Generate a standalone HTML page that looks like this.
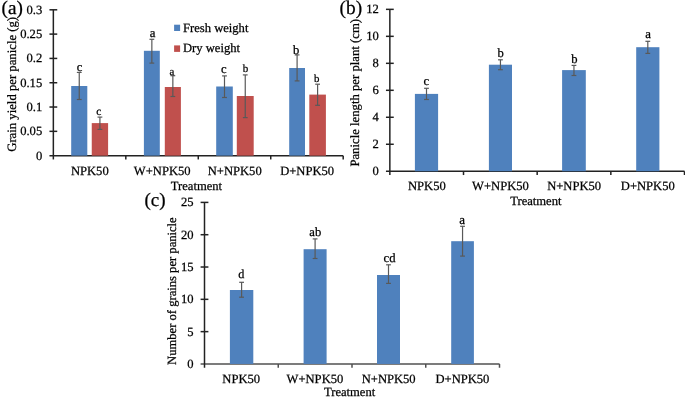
<!DOCTYPE html>
<html><head><meta charset="utf-8"><style>
html,body{margin:0;padding:0;background:#fff;width:685px;height:403px;overflow:hidden}
svg{display:block;will-change:transform}
text{font-family:"Liberation Serif",serif;fill:#000;stroke:#000;stroke-width:0.25px;text-rendering:geometricPrecision}
</style></head><body>
<svg width="685" height="403" viewBox="0 0 685 403">
<line x1="49.45" y1="155.65" x2="343.2" y2="155.65" stroke="#222222" stroke-width="1.5"/>
<line x1="53.35" y1="9.8" x2="53.35" y2="159.45" stroke="#222222" stroke-width="1.5"/>
<line x1="49.45" y1="131.34" x2="57.25" y2="131.34" stroke="#222222" stroke-width="1.5"/>
<line x1="49.45" y1="107.03" x2="57.25" y2="107.03" stroke="#222222" stroke-width="1.5"/>
<line x1="49.45" y1="82.73" x2="57.25" y2="82.73" stroke="#222222" stroke-width="1.5"/>
<line x1="49.45" y1="58.42" x2="57.25" y2="58.42" stroke="#222222" stroke-width="1.5"/>
<line x1="49.45" y1="34.11" x2="57.25" y2="34.11" stroke="#222222" stroke-width="1.5"/>
<line x1="49.45" y1="9.8" x2="57.25" y2="9.8" stroke="#222222" stroke-width="1.5"/>
<text font-size="12.6" text-anchor="end" transform="translate(42.2 159.65) scale(1 1.0)">0</text>
<text font-size="12.6" text-anchor="end" transform="translate(42.2 135.34) scale(1 1.0)">0.05</text>
<text font-size="12.6" text-anchor="end" transform="translate(42.2 111.03) scale(1 1.0)">0.1</text>
<text font-size="12.6" text-anchor="end" transform="translate(42.2 86.73) scale(1 1.0)">0.15</text>
<text font-size="12.6" text-anchor="end" transform="translate(42.2 62.42) scale(1 1.0)">0.2</text>
<text font-size="12.6" text-anchor="end" transform="translate(42.2 38.11) scale(1 1.0)">0.25</text>
<text font-size="12.6" text-anchor="end" transform="translate(42.2 13.8) scale(1 1.0)">0.3</text>
<line x1="125.81" y1="155.65" x2="125.81" y2="159.45" stroke="#222222" stroke-width="1.5"/>
<line x1="198.27" y1="155.65" x2="198.27" y2="159.45" stroke="#222222" stroke-width="1.5"/>
<line x1="270.74" y1="155.65" x2="270.74" y2="159.45" stroke="#222222" stroke-width="1.5"/>
<line x1="343.2" y1="155.65" x2="343.2" y2="159.45" stroke="#222222" stroke-width="1.5"/>
<rect x="71.2" y="86" width="16.1" height="69.65" fill="#4F81BD"/>
<rect x="91.75" y="123.1" width="16.35" height="32.55" fill="#C0504D"/>
<rect x="143.9" y="50.8" width="15.9" height="104.85" fill="#4F81BD"/>
<rect x="164.8" y="87" width="16.1" height="68.65" fill="#C0504D"/>
<rect x="216.2" y="86.5" width="16.6" height="69.15" fill="#4F81BD"/>
<rect x="236.8" y="96" width="16.9" height="59.65" fill="#C0504D"/>
<rect x="289.2" y="68" width="15.8" height="87.65" fill="#4F81BD"/>
<rect x="309.3" y="94.6" width="16.6" height="61.05" fill="#C0504D"/>
<line x1="79.25" y1="72.4" x2="79.25" y2="99.5" stroke="#595959" stroke-width="1.2"/>
<line x1="76.85" y1="72.4" x2="81.65" y2="72.4" stroke="#595959" stroke-width="1.2"/>
<line x1="76.85" y1="99.5" x2="81.65" y2="99.5" stroke="#595959" stroke-width="1.2"/>
<line x1="99.92" y1="117.1" x2="99.92" y2="129.4" stroke="#595959" stroke-width="1.2"/>
<line x1="97.52" y1="117.1" x2="102.33" y2="117.1" stroke="#595959" stroke-width="1.2"/>
<line x1="97.52" y1="129.4" x2="102.33" y2="129.4" stroke="#595959" stroke-width="1.2"/>
<line x1="151.85" y1="39.3" x2="151.85" y2="63.1" stroke="#595959" stroke-width="1.2"/>
<line x1="149.45" y1="39.3" x2="154.25" y2="39.3" stroke="#595959" stroke-width="1.2"/>
<line x1="149.45" y1="63.1" x2="154.25" y2="63.1" stroke="#595959" stroke-width="1.2"/>
<line x1="172.85" y1="75.7" x2="172.85" y2="96.5" stroke="#595959" stroke-width="1.2"/>
<line x1="170.45" y1="75.7" x2="175.25" y2="75.7" stroke="#595959" stroke-width="1.2"/>
<line x1="170.45" y1="96.5" x2="175.25" y2="96.5" stroke="#595959" stroke-width="1.2"/>
<line x1="224.5" y1="75.9" x2="224.5" y2="97.5" stroke="#595959" stroke-width="1.2"/>
<line x1="222.1" y1="75.9" x2="226.9" y2="75.9" stroke="#595959" stroke-width="1.2"/>
<line x1="222.1" y1="97.5" x2="226.9" y2="97.5" stroke="#595959" stroke-width="1.2"/>
<line x1="245.25" y1="74.9" x2="245.25" y2="117.6" stroke="#595959" stroke-width="1.2"/>
<line x1="242.85" y1="74.9" x2="247.65" y2="74.9" stroke="#595959" stroke-width="1.2"/>
<line x1="242.85" y1="117.6" x2="247.65" y2="117.6" stroke="#595959" stroke-width="1.2"/>
<line x1="297.1" y1="54.9" x2="297.1" y2="80.9" stroke="#595959" stroke-width="1.2"/>
<line x1="294.7" y1="54.9" x2="299.5" y2="54.9" stroke="#595959" stroke-width="1.2"/>
<line x1="294.7" y1="80.9" x2="299.5" y2="80.9" stroke="#595959" stroke-width="1.2"/>
<line x1="317.6" y1="84.2" x2="317.6" y2="105.3" stroke="#595959" stroke-width="1.2"/>
<line x1="315.2" y1="84.2" x2="320.0" y2="84.2" stroke="#595959" stroke-width="1.2"/>
<line x1="315.2" y1="105.3" x2="320.0" y2="105.3" stroke="#595959" stroke-width="1.2"/>
<text font-size="12.6" text-anchor="middle" transform="translate(89.78 174.55) scale(1 1.0)">NPK50</text>
<text font-size="12.6" text-anchor="middle" transform="translate(162.24 174.55) scale(1 1.0)">W+NPK50</text>
<text font-size="12.6" text-anchor="middle" transform="translate(234.71 174.55) scale(1 1.0)">N+NPK50</text>
<text font-size="12.6" text-anchor="middle" transform="translate(307.17 174.55) scale(1 1.0)">D+NPK50</text>
<text font-size="12.6" text-anchor="middle" transform="translate(196.45 189.9) scale(1 1.0)">Treatment</text>
<rect x="174.1" y="24.7" width="6" height="6.3" fill="#4F81BD"/>
<rect x="174.1" y="45.4" width="6" height="6.5" fill="#C0504D"/>
<text font-size="12.6" text-anchor="start" transform="translate(183.0 31.7) scale(1 1.0)">Fresh weight</text>
<text font-size="12.6" text-anchor="start" transform="translate(183.0 52.3) scale(1 1.0)">Dry weight</text>
<text font-size="12.72" text-anchor="middle" transform="translate(15.9 84.35) rotate(-90) scale(1 1.0)">Grain yield per panicle (g)</text>
<text font-size="19.2" text-anchor="start" transform="translate(1.5 13.7) scale(1 1.0)">(a)</text>
<line x1="385.95" y1="171.25" x2="684.5" y2="171.25" stroke="#222222" stroke-width="1.5"/>
<line x1="389.85" y1="9.35" x2="389.85" y2="175.05" stroke="#222222" stroke-width="1.5"/>
<line x1="385.95" y1="144.27" x2="393.75" y2="144.27" stroke="#222222" stroke-width="1.5"/>
<line x1="385.95" y1="117.28" x2="393.75" y2="117.28" stroke="#222222" stroke-width="1.5"/>
<line x1="385.95" y1="90.3" x2="393.75" y2="90.3" stroke="#222222" stroke-width="1.5"/>
<line x1="385.95" y1="63.32" x2="393.75" y2="63.32" stroke="#222222" stroke-width="1.5"/>
<line x1="385.95" y1="36.33" x2="393.75" y2="36.33" stroke="#222222" stroke-width="1.5"/>
<line x1="385.95" y1="9.35" x2="393.75" y2="9.35" stroke="#222222" stroke-width="1.5"/>
<text font-size="12.6" text-anchor="end" transform="translate(378.9 175.25) scale(1 1.0)">0</text>
<text font-size="12.6" text-anchor="end" transform="translate(378.9 148.27) scale(1 1.0)">2</text>
<text font-size="12.6" text-anchor="end" transform="translate(378.9 121.28) scale(1 1.0)">4</text>
<text font-size="12.6" text-anchor="end" transform="translate(378.9 94.3) scale(1 1.0)">6</text>
<text font-size="12.6" text-anchor="end" transform="translate(378.9 67.32) scale(1 1.0)">8</text>
<text font-size="12.6" text-anchor="end" transform="translate(378.9 40.33) scale(1 1.0)">10</text>
<text font-size="12.6" text-anchor="end" transform="translate(378.9 13.35) scale(1 1.0)">12</text>
<line x1="463.51" y1="171.25" x2="463.51" y2="175.05" stroke="#222222" stroke-width="1.5"/>
<line x1="537.17" y1="171.25" x2="537.17" y2="175.05" stroke="#222222" stroke-width="1.5"/>
<line x1="610.84" y1="171.25" x2="610.84" y2="175.05" stroke="#222222" stroke-width="1.5"/>
<line x1="684.5" y1="171.25" x2="684.5" y2="175.05" stroke="#222222" stroke-width="1.5"/>
<rect x="414.9" y="93.9" width="23.2" height="77.35" fill="#4F81BD"/>
<rect x="488.9" y="64.7" width="23.1" height="106.55" fill="#4F81BD"/>
<rect x="562.1" y="70.1" width="23.7" height="101.15" fill="#4F81BD"/>
<rect x="636.2" y="47.2" width="23.2" height="124.05" fill="#4F81BD"/>
<line x1="426.5" y1="88.3" x2="426.5" y2="99.5" stroke="#595959" stroke-width="1.2"/>
<line x1="424.1" y1="88.3" x2="428.9" y2="88.3" stroke="#595959" stroke-width="1.2"/>
<line x1="424.1" y1="99.5" x2="428.9" y2="99.5" stroke="#595959" stroke-width="1.2"/>
<line x1="500.45" y1="59.8" x2="500.45" y2="69.7" stroke="#595959" stroke-width="1.2"/>
<line x1="498.05" y1="59.8" x2="502.85" y2="59.8" stroke="#595959" stroke-width="1.2"/>
<line x1="498.05" y1="69.7" x2="502.85" y2="69.7" stroke="#595959" stroke-width="1.2"/>
<line x1="573.95" y1="65.4" x2="573.95" y2="75.5" stroke="#595959" stroke-width="1.2"/>
<line x1="571.55" y1="65.4" x2="576.35" y2="65.4" stroke="#595959" stroke-width="1.2"/>
<line x1="571.55" y1="75.5" x2="576.35" y2="75.5" stroke="#595959" stroke-width="1.2"/>
<line x1="647.8" y1="41.3" x2="647.8" y2="53.4" stroke="#595959" stroke-width="1.2"/>
<line x1="645.4" y1="41.3" x2="650.2" y2="41.3" stroke="#595959" stroke-width="1.2"/>
<line x1="645.4" y1="53.4" x2="650.2" y2="53.4" stroke="#595959" stroke-width="1.2"/>
<text font-size="12.6" text-anchor="middle" transform="translate(426.83 190.3) scale(1 1.0)">NPK50</text>
<text font-size="12.6" text-anchor="middle" transform="translate(500.49 190.3) scale(1 1.0)">W+NPK50</text>
<text font-size="12.6" text-anchor="middle" transform="translate(574.16 190.3) scale(1 1.0)">N+NPK50</text>
<text font-size="12.6" text-anchor="middle" transform="translate(647.82 190.3) scale(1 1.0)">D+NPK50</text>
<text font-size="12.6" text-anchor="middle" transform="translate(535.85 205.3) scale(1 1.0)">Treatment</text>
<text font-size="12.73" text-anchor="middle" transform="translate(359 92.8) rotate(-90) scale(1 1.0)">Panicle length per plant (cm)</text>
<text font-size="19.4" text-anchor="start" transform="translate(339.6 13.8) scale(1 1.0)">(b)</text>
<line x1="200.6" y1="363.95" x2="499.5" y2="363.95" stroke="#505050" stroke-width="1.5"/>
<line x1="204.5" y1="202.4" x2="204.5" y2="367.75" stroke="#222222" stroke-width="1.5"/>
<line x1="200.6" y1="331.64" x2="208.4" y2="331.64" stroke="#222222" stroke-width="1.5"/>
<line x1="200.6" y1="299.33" x2="208.4" y2="299.33" stroke="#222222" stroke-width="1.5"/>
<line x1="200.6" y1="267.02" x2="208.4" y2="267.02" stroke="#222222" stroke-width="1.5"/>
<line x1="200.6" y1="234.71" x2="208.4" y2="234.71" stroke="#222222" stroke-width="1.5"/>
<line x1="200.6" y1="202.4" x2="208.4" y2="202.4" stroke="#222222" stroke-width="1.5"/>
<text font-size="12.6" text-anchor="end" transform="translate(193.5 367.95) scale(1 1.0)">0</text>
<text font-size="12.6" text-anchor="end" transform="translate(193.5 335.64) scale(1 1.0)">5</text>
<text font-size="12.6" text-anchor="end" transform="translate(193.5 303.33) scale(1 1.0)">10</text>
<text font-size="12.6" text-anchor="end" transform="translate(193.5 271.02) scale(1 1.0)">15</text>
<text font-size="12.6" text-anchor="end" transform="translate(193.5 238.71) scale(1 1.0)">20</text>
<text font-size="12.6" text-anchor="end" transform="translate(193.5 206.4) scale(1 1.0)">25</text>
<line x1="278.25" y1="363.95" x2="278.25" y2="367.75" stroke="#505050" stroke-width="1.5"/>
<line x1="352.0" y1="363.95" x2="352.0" y2="367.75" stroke="#505050" stroke-width="1.5"/>
<line x1="425.75" y1="363.95" x2="425.75" y2="367.75" stroke="#505050" stroke-width="1.5"/>
<line x1="499.5" y1="363.95" x2="499.5" y2="367.75" stroke="#505050" stroke-width="1.5"/>
<rect x="229.9" y="290" width="23.4" height="73.95" fill="#4F81BD"/>
<rect x="303.6" y="249.2" width="23.0" height="114.75" fill="#4F81BD"/>
<rect x="377" y="275" width="23" height="88.95" fill="#4F81BD"/>
<rect x="451.2" y="241.2" width="22.7" height="122.75" fill="#4F81BD"/>
<line x1="241.6" y1="282.3" x2="241.6" y2="297.2" stroke="#595959" stroke-width="1.2"/>
<line x1="239.2" y1="282.3" x2="244.0" y2="282.3" stroke="#595959" stroke-width="1.2"/>
<line x1="239.2" y1="297.2" x2="244.0" y2="297.2" stroke="#595959" stroke-width="1.2"/>
<line x1="315.1" y1="238.9" x2="315.1" y2="258.5" stroke="#595959" stroke-width="1.2"/>
<line x1="312.7" y1="238.9" x2="317.5" y2="238.9" stroke="#595959" stroke-width="1.2"/>
<line x1="312.7" y1="258.5" x2="317.5" y2="258.5" stroke="#595959" stroke-width="1.2"/>
<line x1="388.5" y1="264.8" x2="388.5" y2="283.4" stroke="#595959" stroke-width="1.2"/>
<line x1="386.1" y1="264.8" x2="390.9" y2="264.8" stroke="#595959" stroke-width="1.2"/>
<line x1="386.1" y1="283.4" x2="390.9" y2="283.4" stroke="#595959" stroke-width="1.2"/>
<line x1="462.55" y1="226.3" x2="462.55" y2="256.1" stroke="#595959" stroke-width="1.2"/>
<line x1="460.15" y1="226.3" x2="464.95" y2="226.3" stroke="#595959" stroke-width="1.2"/>
<line x1="460.15" y1="256.1" x2="464.95" y2="256.1" stroke="#595959" stroke-width="1.2"/>
<text font-size="12.6" text-anchor="middle" transform="translate(241.18 383) scale(1 1.0)">NPK50</text>
<text font-size="12.6" text-anchor="middle" transform="translate(314.93 383) scale(1 1.0)">W+NPK50</text>
<text font-size="12.6" text-anchor="middle" transform="translate(388.68 383) scale(1 1.0)">N+NPK50</text>
<text font-size="12.6" text-anchor="middle" transform="translate(462.43 383) scale(1 1.0)">D+NPK50</text>
<text font-size="12.6" text-anchor="middle" transform="translate(349.6 396.3) scale(1 1.0)">Treatment</text>
<text font-size="19" text-anchor="start" transform="translate(144.4 206.3) scale(1 1.0)">(c)</text>
<text font-size="12.6" text-anchor="middle" transform="translate(176.2 291.1) rotate(-90) scale(1 1.0)">Number of grains per panicle</text>
<text font-size="12.6" text-anchor="middle" transform="translate(79.55 70.6) scale(1 1.0)">c</text>
<text font-size="11.5" text-anchor="middle" transform="translate(98.7 114.6) scale(1 1.0)">c</text>
<text font-size="12.8" text-anchor="middle" transform="translate(152.65 36.5) scale(1 1.0)">a</text>
<text font-size="10.8" text-anchor="middle" transform="translate(171.8 74.6) scale(1 1.0)">a</text>
<text font-size="12.6" text-anchor="middle" transform="translate(223.8 73.1) scale(1 1.0)">c</text>
<text font-size="11.0" text-anchor="middle" transform="translate(245.55 72.3) scale(1 1.0)">b</text>
<text font-size="12.6" text-anchor="middle" transform="translate(296.1 54.1) scale(1 1.0)">b</text>
<text font-size="10.8" text-anchor="middle" transform="translate(316.6 81.6) scale(1 1.0)">b</text>
<text font-size="12.6" text-anchor="middle" transform="translate(426.4 85.4) scale(1 1.0)">c</text>
<text font-size="12.6" text-anchor="middle" transform="translate(500.65 57.3) scale(1 1.0)">b</text>
<text font-size="12.6" text-anchor="middle" transform="translate(574.3 63.1) scale(1 1.0)">b</text>
<text font-size="12.8" text-anchor="middle" transform="translate(648.05 37.9) scale(1 1.0)">a</text>
<text font-size="12.2" text-anchor="middle" transform="translate(241.35 278.1) scale(1 1.0)">d</text>
<text font-size="12.6" text-anchor="middle" transform="translate(315.3 235.6) scale(1 1.0)">ab</text>
<text font-size="12.6" text-anchor="middle" transform="translate(389.55 261.9) scale(1 1.0)">cd</text>
<text font-size="13.0" text-anchor="middle" transform="translate(462.05 223.6) scale(1 1.0)">a</text>
</svg></body></html>
